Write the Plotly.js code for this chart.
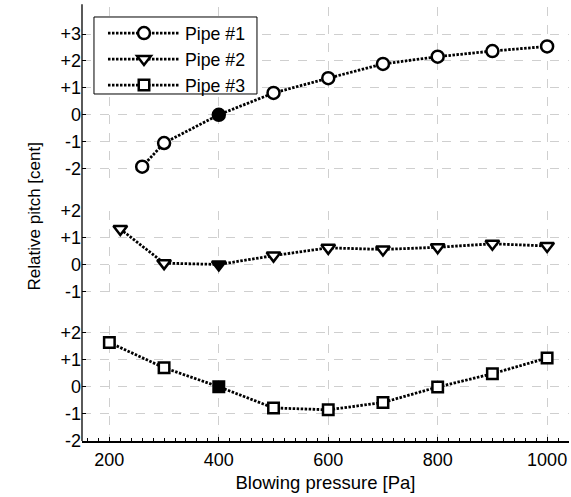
<!DOCTYPE html>
<html>
<head>
<meta charset="utf-8">
<script src="https://cdn.plot.ly/plotly-3.0.1.min.js"></script>
<style>html,body{margin:0;padding:0;background:#fff;}#chart{width:571px;height:497px;}</style>
</head>
<body>
<div id="chart"></div>
<script>
// Data
const pipe1X = [260, 300, 400, 500, 600, 700, 800, 900, 1000];
const pipe1Y = [-1.93, -1.05, 0, 0.81, 1.36, 1.89, 2.16, 2.37, 2.54];
const pipe2X = [220, 300, 400, 500, 600, 700, 800, 900, 1000];
const pipe2Y = [1.32, 0.05, 0, 0.33, 0.62, 0.56, 0.64, 0.77, 0.69];
const pipe3X = [200, 300, 400, 500, 600, 700, 800, 900, 1000];
const pipe3Y = [1.63, 0.70, 0, -0.78, -0.85, -0.58, -0.01, 0.48, 1.06];
const refX = 400; // reference pressure (filled marker)
const seriesNames = ['Pipe #1', 'Pipe #2', 'Pipe #3'];
const xTickVals = [200, 400, 600, 800, 1000];
const y1TickVals = [-2, -1, 0, 1, 2, 3];
const y1TickText = ['-2', '-1', '0', '+1', '+2', '+3'];
const y2TickVals = [-1, 0, 1, 2];
const y2TickText = ['-1', '0', '+1', '+2'];
const y3TickVals = [-2, -1, 0, 1, 2];
const y3TickText = ['-2', '-1', '0', '+1', '+2'];
const xTitle = 'Blowing pressure [Pa]';
const yTitle = 'Relative pitch [cent]';

const FONT = 'Liberation Sans, Arial, sans-serif';
function fills(xs) { return xs.map(v => v === refX ? 'black' : 'white'); }
function trace(xs, ys, name, symbol, yaxis, size) {
  return {
    x: xs, y: ys, name: name, type: 'scatter', mode: 'lines+markers',
    xaxis: 'x', yaxis: yaxis,
    line: {color: 'black', width: 2.8, dash: '2.5px,1.5px'},
    marker: {symbol: symbol, size: size, color: fills(xs), line: {color: 'black', width: 2.5}},
    cliponaxis: false
  };
}
const data = [
  trace(pipe1X, pipe1Y, seriesNames[0], 'circle', 'y', 12),
  trace(pipe2X, pipe2Y, seriesNames[1], 'triangle-down', 'y2', 12),
  trace(pipe3X, pipe3Y, seriesNames[2], 'square', 'y3', 10.5)
];
const grid = {showgrid: true, gridcolor: '#cfcfcf', gridwidth: 1, griddash: 'dash'};
function yax(domain, range, tv, tt) {
  return Object.assign({
    domain: domain, range: range, tickvals: tv, ticktext: tt,
    zeroline: false, showline: false, ticks: 'inside', ticklen: 4, tickcolor: 'black', tickwidth: 1,
    tickfont: {family: FONT, size: 18, color: 'black'}, anchor: 'x', fixedrange: true
  }, grid);
}
const layout = {
  width: 571, height: 497,
  margin: {l: 82, r: 2, t: 5, b: 56},
  paper_bgcolor: 'white', plot_bgcolor: 'white',
  showlegend: true,
  legend: {
    x: 0.0431, y: 0.977, xanchor: 'left', yanchor: 'top',
    bgcolor: 'rgba(0,0,0,0)', borderwidth: 0,
    font: {family: FONT, size: 17.7, color: 'black'},
    itemwidth: 72, tracegroupgap: 0
  },
  xaxis: Object.assign({
    range: [150, 1040], anchor: 'y3', tickvals: xTickVals,
    zeroline: false, showline: true, linecolor: 'black', linewidth: 1.5,
    ticks: 'inside', ticklen: 4, tickcolor: 'black',
    ticklabelstandoff: 2,
    minor: {dtick: 20, tick0: 0, ticks: 'inside', ticklen: 3, tickcolor: 'black', showgrid: false},
    tickfont: {family: FONT, size: 18, color: 'black'},
    title: {text: xTitle, font: {family: FONT, size: 18.5, color: 'black'}, standoff: 7},
    fixedrange: true
  }, grid),
  yaxis: yax([0.594, 0.995], [-2.5, 4], y1TickVals, y1TickText),
  yaxis2: yax([0.331, 0.528], [-1.2, 2], y2TickVals, y2TickText),
  yaxis3: yax([0, 0.2644], [-2, 2.25], y3TickVals, y3TickText),
  annotations: [
    {text: yTitle, xref: 'paper', yref: 'paper', x: -0.0986, y: 0.515,
     xanchor: 'center', yanchor: 'middle', textangle: -90, showarrow: false,
     font: {family: FONT, size: 17, color: 'black'}}
  ],
  shapes: [
    {type: 'line', xref: 'paper', yref: 'paper', x0: 0, x1: 0, y0: 0, y1: 1.002,
     line: {color: 'black', width: 1.3}, layer: 'above'},
    {type: 'rect', xref: 'paper', yref: 'paper', x0: 0.0246, x1: 0.3593, y0: 0.7959, y1: 0.9725,
     fillcolor: 'white', line: {color: 'black', width: 1}, layer: 'above'}
  ]
};
Plotly.newPlot('chart', data, layout, {displayModeBar: false, staticPlot: true});
</script>
</body>
</html>
